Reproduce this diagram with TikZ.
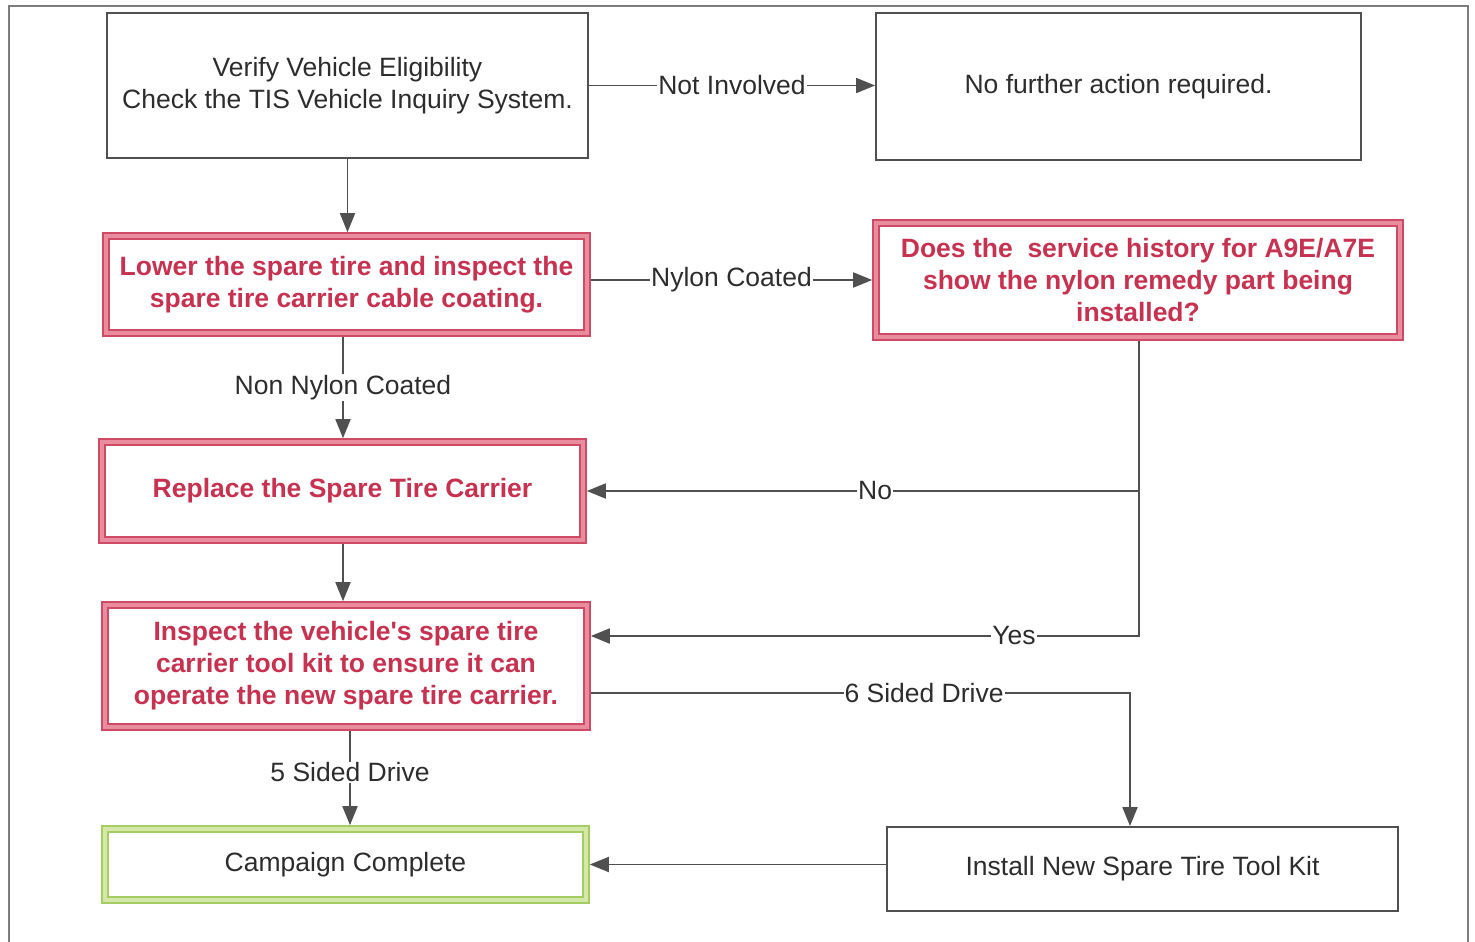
\documentclass[tikz,border=0pt]{standalone}
\usepackage{fontspec}
\setmainfont{Liberation Sans}
\usetikzlibrary{arrows.meta,calc}
\definecolor{txt}{RGB}{45,45,45}
\definecolor{lineG}{RGB}{80,80,80}
\definecolor{frameG}{RGB}{125,125,125}
\definecolor{redT}{RGB}{198,50,80}
\definecolor{redE}{RGB}{205,75,100}
\definecolor{redB}{RGB}{232,140,158}
\definecolor{grnE}{RGB}{165,205,100}
\definecolor{grnB}{RGB}{212,232,170}
\begin{document}
\begin{tikzpicture}[x=1pt,y=-1pt,
  basefont/.style={font=\fontsize{26.5}{32}\selectfont},
  plainbox/.style={basefont, draw=lineG, line width=1.8pt, fill=white, text=txt, align=center, inner sep=0pt},
  redbox/.style={basefont, font=\fontsize{26.5}{32}\selectfont\bfseries, draw=redE, double=redB, double distance=4.5pt, line width=1.6pt, fill=white, text=redT, align=center, inner sep=0pt, outer sep=3.8pt},
  grnbox/.style={basefont, draw=grnE, double=grnB, double distance=4.5pt, line width=1.6pt, fill=white, text=txt, align=center, inner sep=0pt, outer sep=3.8pt},
  arr/.style={draw=lineG, line width=1.8pt, -{Triangle[length=19pt,width=15pt]}},
  lbl/.style={basefont, fill=white, text=txt, inner sep=1pt}
]
\useasboundingbox (0,0) rectangle (1475,942);
% outer frame
\draw[frameG, line width=1.5pt] (9,942) -- (9,6) -- (1468,6) -- (1468,942);

\node[plainbox, minimum width=481pt, minimum height=145pt] (verify) at (347.5,85.5)
  {Verify Vehicle Eligibility\\Check the TIS Vehicle Inquiry System.};
\node[plainbox, minimum width=485pt, minimum height=147pt] (nofurther) at (1118.5,86.5)
  {No further action required.};
\node[redbox, minimum width=481pt, minimum height=97pt] (lower) at (346.5,284.5)
  {Lower the spare tire and inspect the\\spare tire carrier cable coating.};
\node[redbox, minimum width=524pt, minimum height=114pt] (does) at (1138,280)
  {Does the~ service history for A9E/A7E\\show the nylon remedy part being\\installed?};
\node[redbox, minimum width=481pt, minimum height=98pt] (replace) at (342.5,491)
  {Replace the Spare Tire Carrier};
\node[redbox, minimum width=482pt, minimum height=122pt] (inspect) at (346,666)
  {Inspect the vehicle\textquotesingle s spare tire\\carrier tool kit to ensure it can\\operate the new spare tire carrier.};
\node[grnbox, minimum width=481pt, minimum height=71pt] (campaign) at (345.5,864.5)
  {Campaign Complete};
\node[plainbox, minimum width=511pt, minimum height=84pt] (install) at (1142.5,869)
  {Install New Spare Tire Tool Kit};

\coordinate (x343) at (343,0);
\coordinate (x350) at (350,0);
\coordinate (x1130) at (1130,0);
\coordinate (x1139) at (1139,0);

\draw[arr] (verify.south) -- (verify.south |- lower.north);
\draw[arr] (verify.east) -- node[lbl]{Not Involved} (verify.east -| nofurther.west);
\draw[arr] (lower.east |- does.west) -- node[lbl]{Nylon Coated} (does.west);
\draw[arr] (lower.south -| x343) -- node[lbl]{Non Nylon Coated} (replace.north -| x343);
\draw[arr] (does.south -| x1139) |- node[lbl, pos=0.739]{No} (replace.east);
\draw[arr] (does.south -| x1139) |- node[lbl, pos=0.614]{Yes} ([yshift=30pt]inspect.east);
\draw[arr] (replace.south -| x343) -- (inspect.north -| x343);
\draw[arr] ([yshift=-27pt]inspect.east) -| node[lbl, pos=0.309]{6 Sided Drive} (install.north -| x1130);
\draw[arr] (inspect.south -| x350) -- node[lbl, pos=0.44]{5 Sided Drive} (campaign.north -| x350);
\draw[arr] (install.west |- campaign.east) -- (campaign.east);
\end{tikzpicture}
\end{document}
